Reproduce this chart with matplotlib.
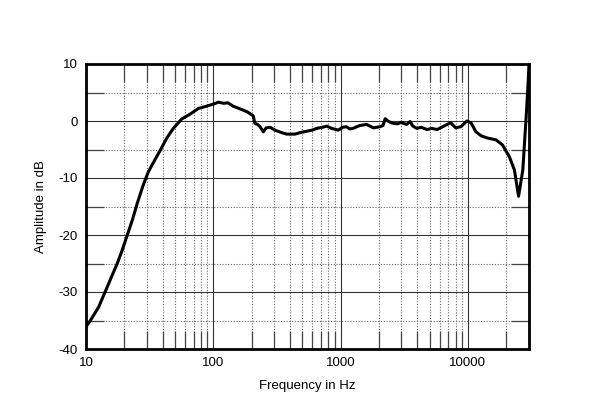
import numpy as np
import matplotlib
matplotlib.use('Agg')
import matplotlib.pyplot as plt
from matplotlib.ticker import FixedLocator, NullFormatter

# frequency response
freq = [10, 10.9, 12.6, 13.8, 14.7, 16.1, 17.6, 19.3, 21.1, 23.1, 25.3, 28.2, 30.9, 34.8,
        38.6, 43.1, 48.5, 56.5, 65.7, 76.3, 88.7,
        101, 110, 121, 130, 143, 155, 172, 185, 200, 206, 212, 222, 233, 247,
        260, 279, 305, 340, 377, 438, 490, 540, 600, 648, 720, 778, 850, 959,
        1040, 1110, 1180, 1250, 1410, 1600, 1810, 2040, 2150, 2240, 2350, 2450, 2590,
        2800, 3000, 3110, 3300, 3510, 3700, 3970, 4300, 4770, 5200, 5730, 6470, 7320,
        8020, 8800, 9400, 9830, 10550, 11000, 11560, 12700, 14300, 16600, 18700,
        21200, 23200, 25000, 27000, 28900, 29800, 30200]
amp = [-36.1, -34.9, -32.6, -30.5, -29.1, -27.0, -25.0, -22.6, -20.0, -17.4, -14.4, -11.2, -8.9, -6.8,
       -5.0, -3.0, -1.3, 0.35, 1.2, 2.2, 2.6,
       3.0, 3.3, 3.1, 3.2, 2.6, 2.3, 1.9, 1.6, 1.1, 0.9, -0.4, -0.6, -1.0, -1.9,
       -1.2, -1.1, -1.6, -2.0, -2.3, -2.3, -2.0, -1.8, -1.6, -1.3, -1.1, -0.9, -1.3, -1.6,
       -1.1, -1.0, -1.4, -1.3, -0.8, -0.6, -1.2, -1.0, -0.8, 0.4, 0.0, -0.2, -0.4,
       -0.5, -0.2, -0.4, -0.6, -0.1, -0.9, -1.3, -1.1, -1.5, -1.3, -1.5, -0.9, -0.3,
       -1.2, -1.0, -0.4, 0.0, -0.3, -1.0, -1.9, -2.6, -3.0, -3.3, -4.2,
       -6.3, -8.6, -13.2, -8.6, 1.9, 7.2, 10.0]

plt.rcParams['font.family'] = ['Liberation Sans', 'DejaVu Sans']
plt.rcParams['axes.unicode_minus'] = False

fig = plt.figure(figsize=(6, 4.09), dpi=100)
ax = fig.add_axes([86/600, 1-349/409, (529-86)/600, (349-64)/409])

ax.set_xscale('log')
ax.set_xlim(10, 30200)
ax.set_ylim(-40, 10)

# major grid: solid
ax.xaxis.set_major_locator(FixedLocator([10, 100, 1000, 10000]))
ax.yaxis.set_major_locator(FixedLocator([-40, -30, -20, -10, 0, 10]))
minx = [m * d for d in [10, 100, 1000, 10000] for m in range(2, 10) if m * d < 30200]
ax.xaxis.set_minor_locator(FixedLocator(minx))
ax.yaxis.set_minor_locator(FixedLocator([-35, -25, -15, -5, 5]))
ax.xaxis.set_minor_formatter(NullFormatter())
ax.set_xticklabels(['10', '100', '1000', '10000'])

ax.grid(which='major', color='#333333', linewidth=0.8, linestyle='-')
ax.grid(which='minor', color='#666666', linewidth=0.8, linestyle=(0, (1, 1.5)))

ax.tick_params(which='major', length=0, labelsize=9.5, pad=6)
ax.tick_params(which='minor', direction='in', length=13, width=0.9, color='#444444',
               top=True, right=True, bottom=True, left=True)

for s in ax.spines.values():
    s.set_linewidth(2)
    s.set_color('black')

ax.plot(freq, amp, color='black', linewidth=2.2, zorder=5)

ax.set_xlabel('Frequency in Hz', fontsize=9.5, labelpad=8)
ax.set_ylabel('Amplitude in dB', fontsize=9.5, labelpad=8)

fig.savefig('out.png', dpi=100)
